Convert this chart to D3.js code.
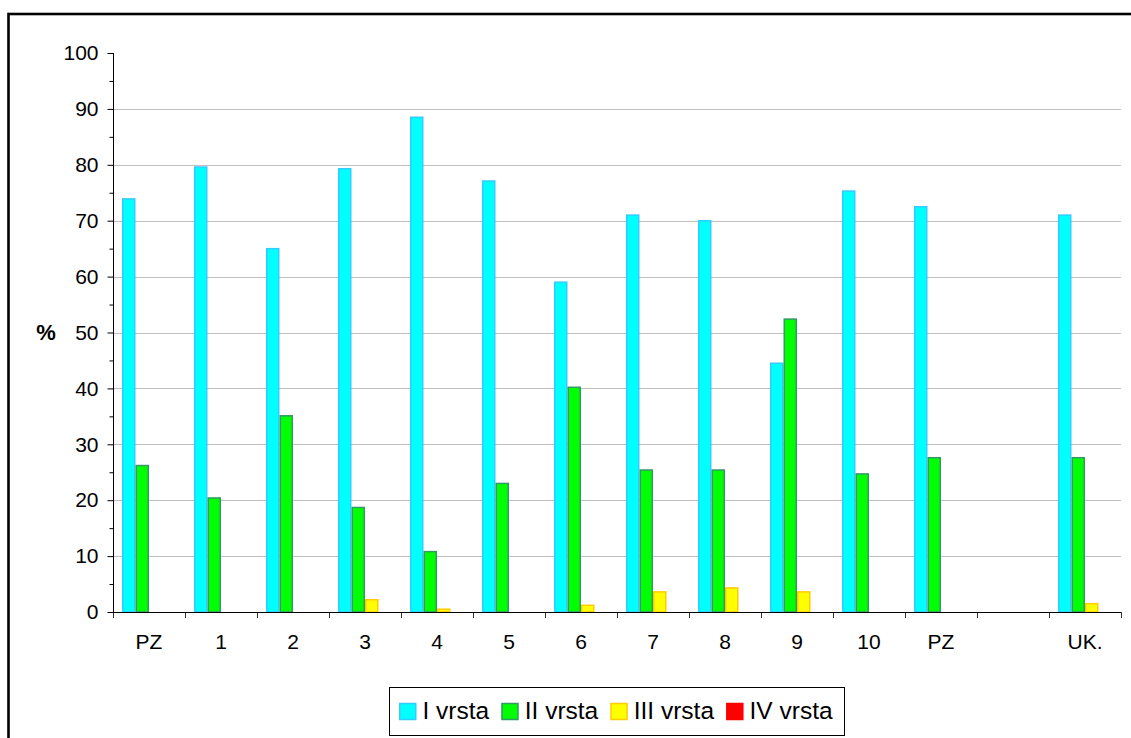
<!DOCTYPE html>
<html><head><meta charset="utf-8">
<script src="https://cdn.jsdelivr.net/npm/d3@7"></script>
<style>body{margin:0;background:#fff}svg{display:block}text{font-family:"Liberation Sans",Arial,sans-serif}</style>
</head><body><svg id="c" width="1131" height="738"></svg>
<script>
const categories = ["PZ","1","2","3","4","5","6","7","8","9","10","PZ","","UK."];
const seriesNames = ["I vrsta","II vrsta","III vrsta","IV vrsta"];
const vrstaI   = [73.9,79.6,65.0,79.3,88.5,77.1,59.0,71.0,70.0,44.5,75.3,72.5,0,71.0];
const vrstaII  = [26.2,20.4,35.1,18.7,10.8,23.0,40.2,25.4,25.4,52.4,24.7,27.6,0,27.6];
const vrstaIII = [0,0,0,2.2,0.5,0,1.2,3.6,4.3,3.6,0,0,0,1.5];
const vrstaIV  = [0,0,0,0,0,0,0,0,0,0,0,0,0,0];
const yTicks = [0,10,20,30,40,50,60,70,80,90,100];
const fills   = ["#00ffff","#00ff00","#ffff00","#ff0000"];
const strokes = ["#33ccff","#339966","#ffcc00","#ff0000"];
const series = [vrstaI, vrstaII, vrstaIII, vrstaIV];

const svg = d3.select("#c");
// outer frame
svg.append("rect").attr("x",8.5).attr("y",14).attr("width",1140).attr("height",740)
  .attr("fill","none").attr("stroke","#000").attr("stroke-width",2.6);

const L=113, R=1121, T=53, B=612;
const y = d3.scaleLinear().domain([0,100]).range([B,T]);
const x = d3.scaleBand().domain(d3.range(categories.length)).range([L,R]).paddingInner(0).paddingOuter(0);
const xs = d3.scaleBand().domain(d3.range(series.length)).range([9, x.bandwidth()-9]);

// gridlines
svg.append("g").selectAll("line").data(yTicks.filter(t=>t>0&&t<100)).join("line")
  .attr("x1",L).attr("x2",R).attr("y1",d=>Math.round(y(d))+0.5).attr("y2",d=>Math.round(y(d))+0.5)
  .attr("stroke","#c0c0c0").attr("stroke-width",1);

// bars
series.forEach((vals,si)=>{
  svg.append("g").selectAll("rect").data(vals.map((v,i)=>({v,i})).filter(d=>d.v>0)).join("rect")
    .attr("x",d=>x(d.i)+xs(si)+0.75).attr("width",xs.bandwidth()-1.5)
    .attr("y",d=>y(d.v)).attr("height",d=>B-y(d.v))
    .attr("fill",fills[si]).attr("stroke",strokes[si]).attr("stroke-width",1.5);
});

// y axis
const yAxis = d3.axisLeft(y).tickValues(yTicks).tickSize(6).tickPadding(9).tickFormat(d3.format("d"));
const ya = svg.append("g").attr("transform",`translate(${L+0.5},0)`).call(yAxis);
ya.select(".domain").remove();
ya.selectAll("line").attr("stroke","#000");
ya.selectAll("text").attr("font-size",21).attr("fill","#000");
svg.append("g").attr("transform",`translate(${L+0.5},0)`).call(
  d3.axisLeft(y).tickValues(d3.range(5,100,10)).tickSize(4).tickFormat(""))
  .call(g=>g.select(".domain").remove()).selectAll("line").attr("stroke","#000");
svg.append("line").attr("x1",L+0.5).attr("x2",L+0.5).attr("y1",T).attr("y2",B).attr("stroke","#000");

// x axis
const xi = d3.scaleLinear().domain([0,categories.length]).range([L,R]);
svg.append("g").attr("transform",`translate(0,${B})`).call(
  d3.axisBottom(xi).tickValues(d3.range(0,categories.length+1)).tickSize(6).tickFormat(""))
  .call(g=>g.select(".domain").remove()).selectAll("line").attr("stroke","#333");
const xa = svg.append("g").attr("transform",`translate(0,${B})`).call(
  d3.axisBottom(x).tickSize(0).tickPadding(22).tickFormat(i=>categories[i]));
xa.select(".domain").remove();
xa.selectAll("text").attr("font-size",21).attr("fill","#000");
svg.append("line").attr("x1",L).attr("x2",R).attr("y1",B+0.5).attr("y2",B+0.5).attr("stroke","#000");

// y title
svg.append("text").attr("x",46).attr("y",340).attr("text-anchor","middle")
  .attr("font-size",22).attr("font-weight","bold").text("%");

// legend
const lg = svg.append("g");
lg.append("rect").attr("x",389.5).attr("y",687.5).attr("width",455).attr("height",48)
  .attr("fill","#fff").attr("stroke","#000").attr("stroke-width",1);
let cx = 399;
seriesNames.forEach((n,i)=>{
  lg.append("rect").attr("x",cx+0.75).attr("y",703.5).attr("width",16).attr("height",16)
    .attr("fill",fills[i]).attr("stroke",strokes[i]).attr("stroke-width",1.5);
  const t = lg.append("text").attr("x",cx+23.5).attr("y",719).attr("font-size",24.5).text(n);
  cx += 23.5 + t.node().getComputedTextLength() + 12;
});
</script></body></html>
